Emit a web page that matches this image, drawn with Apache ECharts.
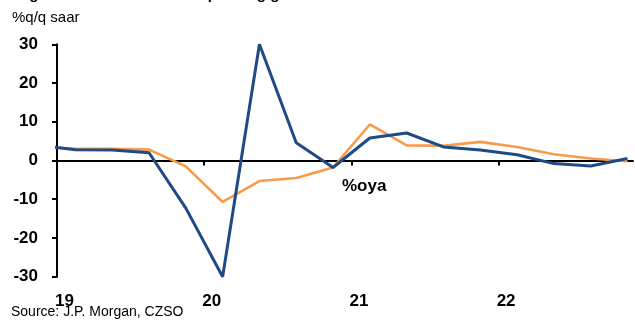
<!DOCTYPE html>
<html>
<head>
<meta charset="utf-8">
<script src="https://cdn.jsdelivr.net/npm/echarts@6/dist/echarts.min.js"></script>
<style>
  html, body { margin: 0; padding: 0; background: #fff; }
  #chart { width: 635px; height: 324px; }
</style>
</head>
<body>
<div id="chart"></div>
<script>
// Quarter positions (0 = start of 2019); values sit mid-quarter, the first one is Q4 2018
const quarterPos = [-0.5, 0.5, 1.5, 2.5, 3.5, 4.5, 5.5, 6.5, 7.5, 8.5, 9.5, 10.5, 11.5, 12.5, 13.5, 14.5, 15.5];
// GDP, %q/q saar
const qoqSaar = [3.9, 2.8, 2.7, 2.0, -12.3, -30, 30, 4.6, -1.8, 5.8, 7.1, 3.5, 2.7, 1.5, -0.8, -1.4, 0.5];
// GDP, %oya
const oya = [3.5, 3.0, 3.0, 2.8, -1.5, -10.7, -5.3, -4.5, -1.8, 9.3, 3.9, 3.8, 4.8, 3.5, 1.6, 0.5, -0.2];
// Year labels at the start of each year
const yearTicks = [0, 4, 8, 12];
const yearLabels = ['19', '20', '21', '22'];
const yTicks = [-30, -20, -10, 0, 10, 20, 30];

const FONT = '"Liberation Sans", Arial, sans-serif';

const pair = (xs, ys) => xs.map((x, i) => [x, ys[i]]);

const chart = echarts.init(document.getElementById('chart'), null, { renderer: 'canvas' });
chart.setOption({
  animation: false,
  backgroundColor: '#ffffff',
  grid: { left: 57, right: 2, top: 44.3, bottom: 47.3, containLabel: false },
  xAxis: [
    {
      type: 'value', min: 0, max: 15.65, interval: 4,
      axisLine: { onZero: true, lineStyle: { color: '#000', width: 2 } },
      axisTick: { show: true, length: 5, lineStyle: { color: '#000', width: 2 },
                  customValues: yearTicks },
      axisLabel: { show: false },
      splitLine: { show: false }
    },
    {
      type: 'value', min: 0, max: 15.65, interval: 4, position: 'bottom',
      axisLine: { show: false }, axisTick: { show: false }, splitLine: { show: false },
      axisLabel: {
        show: true, margin: 16, align: 'left',
        customValues: yearTicks,
        formatter: v => yearLabels[yearTicks.indexOf(v)] ?? '',
        color: '#000', fontFamily: FONT, fontWeight: 'bold', fontSize: 17,
        padding: [0, 0, 0, -2]
      }
    }
  ],
  yAxis: {
    type: 'value', min: -30, max: 30, interval: 10,
    axisLine: { show: true, onZero: false, lineStyle: { color: '#000', width: 2 } },
    axisTick: { show: true, length: 5, lineStyle: { color: '#000', width: 2 } },
    axisLabel: {
      margin: 19, color: '#000', fontFamily: FONT, fontWeight: 'bold', fontSize: 17,
      customValues: yTicks, formatter: v => String(v)
    },
    splitLine: { show: false }
  },
  series: [
    {
      name: '%oya', type: 'line', xAxisIndex: 0, data: pair(quarterPos, oya),
      symbol: 'none', clip: true,
      lineStyle: { color: '#f89a48', width: 2.6 }, z: 2
    },
    {
      name: '%q/q saar', type: 'line', xAxisIndex: 0, data: pair(quarterPos, qoqSaar),
      symbol: 'none', clip: true,
      lineStyle: { color: '#1f4a85', width: 3 }, z: 3
    }
  ],
  graphic: [
    { type: 'text', left: 16, top: -13,
      style: { text: 'Figure 3: Czech GDP and spending growth', fill: '#000',
               font: 'bold 15px ' + FONT } },
    { type: 'text', left: 12, top: 10,
      style: { text: '%q/q saar', fill: '#000', font: '15px ' + FONT } },
    { type: 'text', left: 342, top: 178,
      style: { text: '%oya', fill: '#000', font: 'bold 17px ' + FONT } },
    { type: 'text', left: 11, top: 305,
      style: { text: 'Source: J.P. Morgan, CZSO', fill: '#000', font: '14px ' + FONT } }
  ]
});
</script>
</body>
</html>
